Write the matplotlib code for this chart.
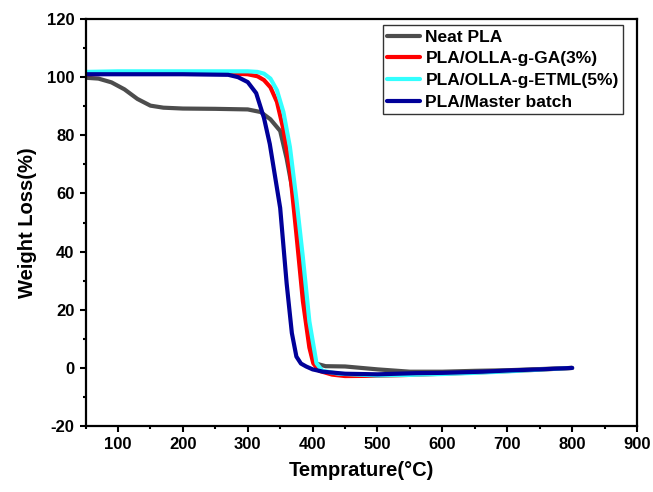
import matplotlib
matplotlib.use("Agg")
import matplotlib.pyplot as plt
from matplotlib.ticker import MultipleLocator

plt.rcParams['font.family'] = ['Liberation Sans', 'DejaVu Sans']
plt.rcParams['font.weight'] = 'bold'
plt.rcParams['axes.unicode_minus'] = False

# values
neat_t = [50, 70, 90, 110, 130, 150, 170, 200, 250, 300, 320, 335, 350, 360, 370,
          380, 390, 398, 405, 420, 450, 500, 550, 600, 650, 700, 750, 800]
neat_w = [99.8, 99.5, 98.2, 95.8, 92.5, 90.2, 89.5, 89.2, 89.1, 88.9, 88.0, 85.5, 81.5, 72, 60,
          44, 24, 5, 1.5, 0.6, 0.5, -0.5, -1.3, -1.3, -1.0, -0.8, -0.4, 0.0]

ga_t = [50, 100, 200, 280, 300, 315, 325, 335, 345, 355, 365, 375, 385, 395, 401, 410,
        430, 450, 500, 550, 600, 650, 700, 750, 800]
ga_w = [101.0, 101.2, 101.2, 101.2, 101.0, 100.3, 99.0, 96.5, 91.5, 82, 68, 46, 23, 7, 1.6, -1.0,
        -2.3, -2.8, -2.7, -2.4, -2.0, -1.6, -1.1, -0.6, 0.0]

etml_t = [50, 100, 200, 300, 315, 325, 335, 345, 355, 365, 375, 385, 395, 406, 415,
          440, 500, 550, 600, 650, 700, 750, 800]
etml_w = [101.8, 102.0, 102.0, 102.0, 101.8, 101.2, 99.5, 95.5, 88, 76, 58, 38, 16, 1.6, -1.0,
          -2.0, -2.6, -2.4, -2.1, -1.7, -1.2, -0.6, 0.0]

mb_t = [50, 100, 200, 270, 285, 300, 313, 325, 334, 342, 350, 360, 368, 375, 382, 390,
        400, 416, 450, 500, 560, 600, 662, 700, 750, 800]
mb_w = [101.0, 101.0, 101.0, 100.8, 100.0, 98.3, 94.5, 86, 77, 66, 55, 29, 12, 3.9, 1.5, 0.5,
        -0.5, -1.3, -2.0, -2.2, -1.8, -1.7, -1.3, -0.9, -0.5, 0.0]

labels = ['Neat PLA', 'PLA/OLLA-g-GA(3%)', 'PLA/OLLA-g-ETML(5%)', 'PLA/Master batch']
colors = ['#4d4d4d', '#ff0000', '#33ffff', '#000099']

fig = plt.figure(figsize=(6.53, 4.92), dpi=100)
ax = fig.add_axes([0.131, 0.134, 0.8445, 0.8274])

for t, w, lab, c in zip([neat_t, ga_t, etml_t, mb_t], [neat_w, ga_w, etml_w, mb_w], labels, colors):
    ax.plot(t, w, color=c, lw=3, label=lab, solid_capstyle='round')

ax.set_xlim(50, 900)
ax.set_ylim(-20, 120)
ax.xaxis.set_major_locator(MultipleLocator(100))
ax.xaxis.set_minor_locator(MultipleLocator(50))
ax.yaxis.set_major_locator(MultipleLocator(20))
ax.yaxis.set_minor_locator(MultipleLocator(10))
ax.tick_params(which='both', direction='out', width=1.5, top=False, right=False, labelsize=12)
ax.tick_params(which='major', length=4.5)
ax.tick_params(which='minor', length=2.5)
for lbl in ax.get_xticklabels() + ax.get_yticklabels():
    lbl.set_fontweight('bold')
for s in ax.spines.values():
    s.set_linewidth(1.6)

ax.set_xlabel('Temprature(°C)', fontsize=14.5, fontweight='bold', labelpad=6)
ax.set_ylabel('Weight Loss(%)', fontsize=14.5, fontweight='bold', labelpad=7)

leg = ax.legend(loc='upper right', bbox_to_anchor=(0.975, 0.985), prop={'weight': 'bold', 'size': 12.5},
                frameon=True, fancybox=False, edgecolor='black', handlelength=1.9,
                handletextpad=0.3, labelspacing=0.38, borderpad=0.25, borderaxespad=0.0)
leg.get_frame().set_linewidth(1.0)

fig.savefig('out.png', dpi=100)
